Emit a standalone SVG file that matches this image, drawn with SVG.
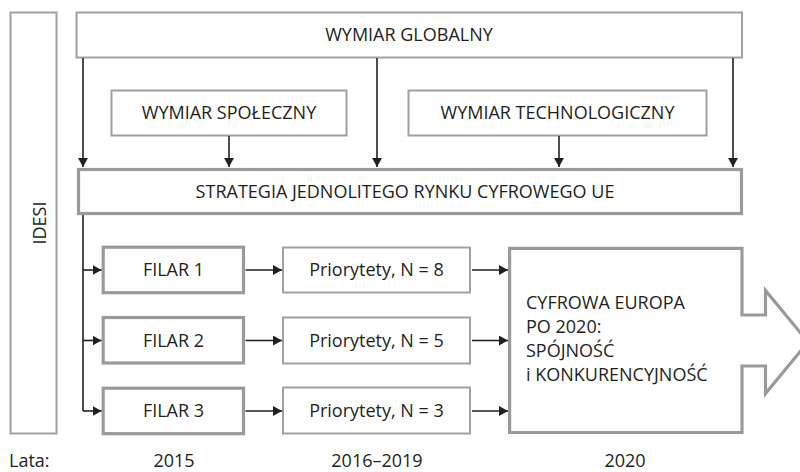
<svg xmlns="http://www.w3.org/2000/svg" width="800" height="472" viewBox="0 0 800 472">
<defs>
<marker id="ah" viewBox="0 0 10 11" refX="10" refY="5.5" markerWidth="9" markerHeight="10" markerUnits="userSpaceOnUse" orient="auto">
<path d="M0,0 L10,5.5 L0,11 z" fill="#231f20"/>
</marker>
<style>
.thin{fill:#fff;stroke:#a0a0a0;stroke-width:2}
.thick{fill:#fff;stroke:#9a9a9a;stroke-width:3.2}
.t{font-family:"Open Sans","Noto Sans",sans-serif;font-size:18px;fill:#231f20}
.m{text-anchor:middle}
.c{fill:none;stroke:#231f20;stroke-width:1.6}
.a{marker-end:url(#ah)}
</style>
</defs>
<rect width="800" height="472" fill="#fff"/>
<g id="idesi">
<rect class="thin" x="10.5" y="12.5" width="46" height="421"/>
<text class="t m" transform="translate(46,223) rotate(-90)">IDESI</text>
</g>
<g id="globalny">
<rect class="thin" x="76.5" y="12.5" width="665.5" height="45"/>
<text class="t m" x="409" y="40.5">WYMIAR GLOBALNY</text>
</g>
<g id="spoleczny">
<rect class="thin" x="111.5" y="90.5" width="235" height="45"/>
<text class="t m" x="229" y="118.5">WYMIAR SPOŁECZNY</text>
</g>
<g id="technologiczny">
<rect class="thin" x="408.5" y="90.5" width="298" height="45"/>
<text class="t m" x="557.5" y="118.5">WYMIAR TECHNOLOGICZNY</text>
</g>
<g id="strategia">
<rect class="thick" x="78.5" y="169.5" width="663" height="44"/>
<text class="t m" x="405" y="198">STRATEGIA JEDNOLITEGO RYNKU CYFROWEGO UE</text>
</g>
<g id="filar1">
<rect class="thick" x="103.2" y="247.2" width="140.3" height="45.5"/>
<text class="t m" x="173.5" y="276">FILAR 1</text>
</g>
<g id="filar2">
<rect class="thick" x="103.2" y="317.5" width="140.3" height="45.5"/>
<text class="t m" x="173.5" y="346.5">FILAR 2</text>
</g>
<g id="filar3">
<rect class="thick" x="103.2" y="388.2" width="140.3" height="45.5"/>
<text class="t m" x="173.5" y="417">FILAR 3</text>
</g>
<g id="prio1">
<rect class="thin" x="283" y="247.5" width="187" height="45"/>
<text class="t m" x="376.5" y="276">Priorytety, N = 8</text>
</g>
<g id="prio2">
<rect class="thin" x="283" y="317.5" width="187" height="46"/>
<text class="t m" x="376.5" y="346.5">Priorytety, N = 5</text>
</g>
<g id="prio3">
<rect class="thin" x="283" y="387.5" width="187" height="46"/>
<text class="t m" x="376.5" y="417">Priorytety, N = 3</text>
</g>
<g id="cyfrowa">
<path class="thick" d="M509.6,248.3 H742 V315 H765.5 V290.5 L808,342 L765.5,393.5 V366 H742 V432.5 H509.6 Z"/>
<text class="t" x="526" y="308.5">CYFROWA EUROPA</text>
<text class="t" x="526" y="332.7">PO 2020:</text>
<text class="t" x="526" y="356.7">SPÓJNOŚĆ</text>
<text class="t" x="526" y="380.7">i KONKURENCYJNOŚĆ</text>
</g>
<g id="connectors">
<path class="c a" d="M83,58 V167"/>
<path class="c a" d="M377,58 V167"/>
<path class="c a" d="M733,58 V167"/>
<path class="c a" d="M229,136 V167"/>
<path class="c a" d="M559,136 V167"/>
<path class="c" d="M83,215 V411"/>
<path class="c a" d="M83,270 H101.5"/>
<path class="c a" d="M83,340.5 H101.5"/>
<path class="c a" d="M83,411 H101.5"/>
<path class="c a" d="M245.5,270 H282"/>
<path class="c a" d="M245.5,340.5 H282"/>
<path class="c a" d="M245.5,411 H282"/>
<path class="c a" d="M472,270 H508"/>
<path class="c a" d="M472,340.5 H508"/>
<path class="c a" d="M472,411 H508"/>
</g>
<g id="years">
<text class="t" x="9" y="467">Lata:</text>
<text class="t m" x="174" y="467">2015</text>
<text class="t m" x="377" y="467">2016–2019</text>
<text class="t m" x="625" y="467">2020</text>
</g>
</svg>
